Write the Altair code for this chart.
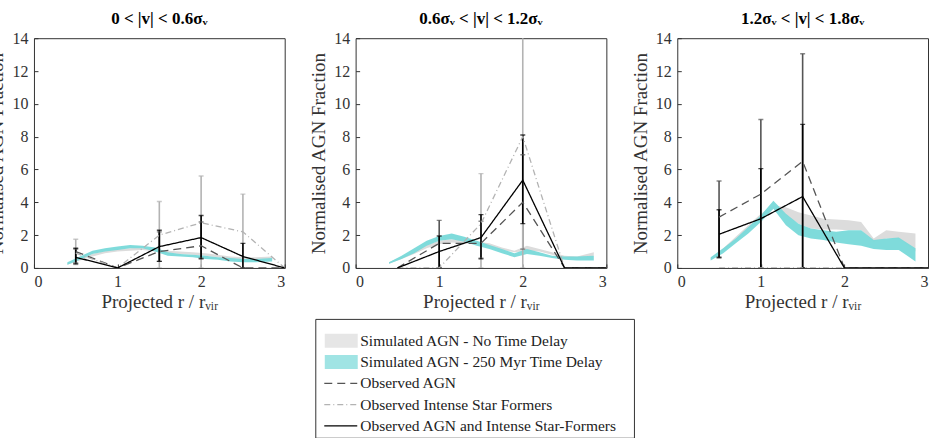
import altair as alt
import pandas as pd

FONT = "Liberation Serif"

# ---------------- data ----------------
panel_titles = ["0 < |v| < 0.6σᵥ", "0.6σᵥ < |v| < 1.2σᵥ", "1.2σᵥ < |v| < 1.8σᵥ"]

OBS_X = [0.5, 1.0, 1.5, 2.0, 2.5, 3.0]
obs_agn = [
    [1.0, 0.0, 1.0, 1.35, 0.0, 0.0],
    [0.0, 1.5, 1.5, 4.0, 0.0, 0.0],
    [3.1, 4.5, 6.5, 0.0, 0.0, 0.0],
]
obs_sf = [
    [0.9, 0.0, 2.0, 2.75, 2.2, 0.0],
    [0.0, 0.0, 2.7, 8.0, 0.0, 0.0],
    [0.0, 0.0, 0.0, 0.0, 0.0, 0.0],
]
obs_both = [
    [0.65, 0.0, 1.3, 1.85, 0.7, 0.0],
    [0.0, 1.0, 1.85, 5.35, 0.0, 0.0],
    [2.05, 3.0, 4.35, 0.0, 0.0, 0.0],
]

# error bars: (series, x, low, high)
err_series = [
    ["SF", "SF", "SF", "SF", "AGN", "AGN", "AGN", "Both", "Both", "Both", "Both"],
    ["AGN", "AGN", "AGN", "SF", "SF", "Both", "Both", "Both"],
    ["AGN", "AGN", "AGN", "Both", "Both", "Both"],
]
err_x = [
    [0.5, 1.5, 2.0, 2.5, 0.5, 1.5, 2.0, 0.5, 1.5, 2.0, 2.5],
    [1.0, 1.5, 2.0, 1.5, 2.0, 1.0, 1.5, 2.0],
    [0.5, 1.0, 1.5, 0.5, 1.0, 1.5],
]
err_lo = [
    [0.2, 0.0, 0.0, 0.0, 0.3, 0.4, 0.6, 0.25, 0.4, 0.55, 0.0],
    [0.0, 0.6, 1.15, 0.0, 0.0, 0.0, 0.55, 2.7],
    [0.6, 0.0, 0.0, 0.65, 0.0, 0.0],
]
err_hi = [
    [1.75, 4.05, 5.6, 4.5, 1.15, 2.2, 2.8, 1.2, 2.3, 3.2, 1.5],
    [2.9, 2.85, 6.9, 5.75, 14.5, 1.95, 3.25, 8.1],
    [5.3, 9.05, 13.05, 3.55, 6.05, 8.75],
]

SIM_X = [0.40, 0.55, 0.70, 0.85, 1.00, 1.15, 1.30, 1.45, 1.60, 1.75, 1.90, 2.05, 2.20, 2.35, 2.50, 2.65, 2.85]
gray_lo = [
    [0.2, 0.45, 0.7, 0.9, 1.0, 1.05, 1.1, 1.0, 0.9, 0.85, 0.8, 0.75, 0.65, 0.55, 0.5, 0.5, 0.5],
    [0.25, 0.55, 0.85, 1.2, 1.45, 1.55, 1.5, 1.45, 1.3, 1.1, 0.95, 1.05, 1.0, 0.8, 0.6, 0.6, 0.75],
    [0.5, 1.0, 1.6, 2.3, 3.0, 3.6, 3.2, 2.7, 2.4, 2.35, 2.35, 2.3, 2.3, 1.6, 1.8, 1.8, 1.0],
]
gray_hi = [
    [0.3, 0.6, 0.85, 1.05, 1.15, 1.2, 1.25, 1.1, 1.05, 1.0, 0.95, 0.9, 0.8, 0.7, 0.65, 0.65, 0.7],
    [0.35, 0.7, 1.0, 1.4, 1.65, 1.75, 1.7, 1.6, 1.5, 1.25, 1.05, 1.35, 1.15, 0.95, 0.75, 0.7, 0.95],
    [0.6, 1.2, 1.9, 2.6, 3.3, 3.8, 3.7, 3.4, 3.2, 3.0, 2.95, 2.9, 2.8, 1.8, 2.3, 2.2, 2.1],
]
cyan_lo = [
    [0.2, 0.5, 0.85, 1.0, 1.1, 1.2, 1.2, 1.0, 0.75, 0.7, 0.65, 0.55, 0.5, 0.4, 0.35, 0.35, 0.4],
    [0.25, 0.55, 0.9, 1.35, 1.65, 1.75, 1.6, 1.35, 1.15, 0.9, 0.65, 0.85, 0.75, 0.6, 0.5, 0.45, 0.45],
    [0.45, 0.9, 1.5, 2.1, 2.8, 3.6, 2.6, 2.0, 1.8, 1.7, 1.55, 1.45, 1.35, 1.15, 1.1, 1.1, 0.4],
]
cyan_hi = [
    [0.35, 0.7, 1.05, 1.2, 1.3, 1.4, 1.35, 1.25, 0.95, 0.85, 0.8, 0.75, 0.65, 0.6, 0.55, 0.55, 0.6],
    [0.35, 0.75, 1.2, 1.65, 1.95, 2.1, 1.9, 1.65, 1.4, 1.15, 0.9, 1.15, 0.95, 0.75, 0.7, 0.7, 0.75],
    [0.65, 1.2, 1.8, 2.5, 3.2, 4.1, 3.3, 2.7, 2.4, 2.3, 2.2, 2.3, 2.3, 1.7, 1.8, 1.85, 1.2],
]

legend_labels = [
    "Simulated AGN - No Time Delay",
    "Simulated AGN - 250 Myr Time Delay",
    "Observed AGN",
    "Observed Intense Star Formers",
    "Observed AGN and Intense Star-Formers",
]
legend_kind = ["gray", "cyan", "AGN", "SF", "Both"]

X_TICKS = [0, 1, 2, 3]
Y_TICKS = [0, 2, 4, 6, 8, 10, 12, 14]

# ---------------- styles ----------------
SERIES = ["AGN", "SF", "Both"]
SERIES_COLORS = ["#555555", "#b3b3b3", "#000000"]
SERIES_DASH = [[8, 5], [6, 3, 1, 3], [1, 0]]
GRAY_BAND = "#dcdcdc"
CYAN_BAND = "#78d9d9"

color_scale = alt.Scale(domain=SERIES, range=SERIES_COLORS)
dash_scale = alt.Scale(domain=SERIES, range=SERIES_DASH)


def panel(i):
    band_df = pd.DataFrame({
        "x": SIM_X, "glo": gray_lo[i], "ghi": gray_hi[i],
        "clo": cyan_lo[i], "chi": cyan_hi[i],
    })
    obs_df = pd.DataFrame({
        "x": OBS_X * 3,
        "y": obs_agn[i] + obs_sf[i] + obs_both[i],
        "s": ["AGN"] * 6 + ["SF"] * 6 + ["Both"] * 6,
    })
    err_df = pd.DataFrame({"s": err_series[i], "x": err_x[i], "lo": err_lo[i], "hi": err_hi[i]})

    xs = alt.Scale(domain=[0, 3], nice=False, zero=False, padding=0)
    ys = alt.Scale(domain=[0, 14], nice=False, padding=0)
    xax = alt.Axis(values=X_TICKS, title="Projected r / rᵥᵢᵣ", offset=-4, tickSize=4,
                   domain=False, grid=False, format="d", labelPadding=6, titlePadding=3,
                   labelOverlap=False)
    yax = alt.Axis(values=Y_TICKS, title="Normalised AGN Fraction", offset=-4,
                   tickSize=4, domain=False, grid=False, labelPadding=6, titlePadding=5,
                   labelOverlap=False, format="d")

    X = lambda f: alt.X(f, scale=xs, axis=xax)
    Y = lambda f: alt.Y(f, scale=ys, axis=yax)

    gray = alt.Chart(band_df).mark_area(color=GRAY_BAND).encode(
        x=X("x:Q"), y=Y("glo:Q"), y2="ghi:Q")
    cyan = alt.Chart(band_df).mark_area(color=CYAN_BAND, opacity=0.95).encode(
        x=X("x:Q"), y=Y("clo:Q"), y2="chi:Q")

    col = alt.Color("s:N", scale=color_scale, legend=None)
    rules = alt.Chart(err_df).mark_rule(strokeWidth=1.6, clip=True).encode(
        x=X("x:Q"), y=Y("lo:Q"), y2="hi:Q", color=col)
    caps_lo = alt.Chart(err_df).mark_tick(orient="horizontal", size=5, thickness=1.4, clip=True).encode(
        x=X("x:Q"), y=Y("lo:Q"), color=col)
    caps_hi = alt.Chart(err_df).mark_tick(orient="horizontal", size=5, thickness=1.4, clip=True).encode(
        x=X("x:Q"), y=Y("hi:Q"), color=col)
    lines = alt.Chart(obs_df).mark_line(strokeWidth=1.3, clip=True).encode(
        x=X("x:Q"), y=Y("y:Q"), color=col,
        strokeDash=alt.StrokeDash("s:N", scale=dash_scale, legend=None),
        detail="s:N")

    return alt.layer(gray, cyan, rules, caps_lo, caps_hi, lines).properties(
        width=251, height=230,
        title=alt.TitleParams(panel_titles[i], font=FONT, fontSize=17, fontWeight="bold",
                              color="#000", anchor="middle", offset=2),
    )


top = alt.hconcat(panel(0), panel(1), panel(2), spacing=23)

leg_df = pd.DataFrame({"label": legend_labels, "kind": legend_kind, "row": list(range(5))})
lsc = alt.Scale(domain=[-1.03, 4.56], reverse=True, padding=0)
ly = alt.Y("row:Q", scale=lsc, axis=None)
sw_gray = alt.Chart(leg_df).transform_filter("datum.kind == 'gray'").mark_tick(
    orient="horizontal", size=33, thickness=14, color=GRAY_BAND).encode(x=alt.value(26), y=ly)
sw_cyan = alt.Chart(leg_df).transform_filter("datum.kind == 'cyan'").mark_tick(
    orient="horizontal", size=33, thickness=14, color=CYAN_BAND).encode(x=alt.value(26), y=ly)
leg_lines = alt.Chart(leg_df).transform_filter(
    alt.FieldOneOfPredicate(field="kind", oneOf=SERIES)).mark_rule(strokeWidth=1.3).encode(
    x=alt.value(9), x2=alt.value(42), y=ly,
    color=alt.Color("kind:N", scale=color_scale, legend=None),
    strokeDash=alt.StrokeDash("kind:N", scale=dash_scale, legend=None))
leg_text = alt.Chart(leg_df).mark_text(align="left", baseline="middle", font=FONT,
                                       fontSize=15.5, color="#222").encode(
    x=alt.value(45), y=ly, text="label:N")
legend = alt.layer(sw_gray, sw_cyan, leg_lines, leg_text).properties(width=319, height=119)

# invisible spacer to nudge the centred legend slightly left
spacer = alt.Chart(pd.DataFrame({"a": [0]})).mark_point(opacity=0).encode(
    x=alt.value(0), y=alt.value(0)
).properties(width=1, height=119, view=alt.ViewBackground(strokeOpacity=0))

bottom = alt.hconcat(legend, spacer, spacing=7)

chart = alt.vconcat(top, bottom, spacing=3, center=True).properties(
    padding={"left": -13, "top": 9, "right": 0, "bottom": 0}
).configure_view(stroke="#333333", strokeWidth=1).configure_axis(
    labelFont=FONT, labelFontSize=16, labelColor="#333333",
    titleFont=FONT, titleFontSize=19, titleFontWeight="normal", titleColor="#333333",
    tickColor="#333333",
).configure_title(font=FONT)

chart.save("out.html", embed_options={"renderer": "svg", "actions": False})
